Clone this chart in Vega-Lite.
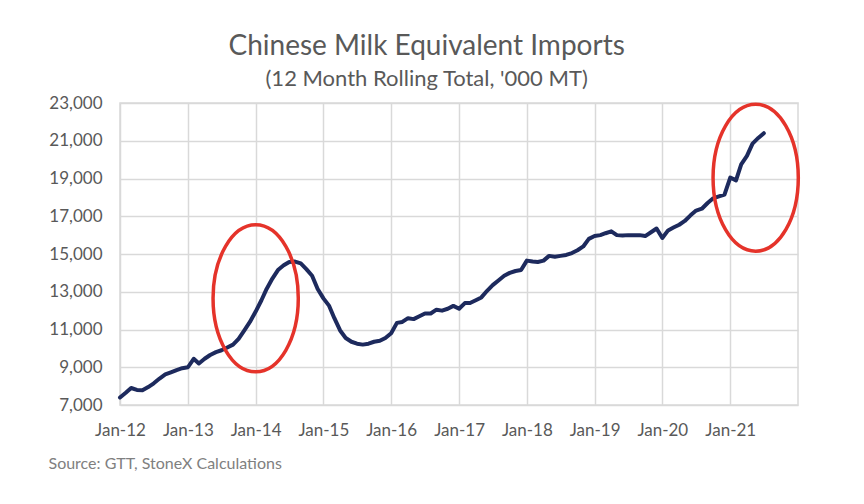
{
  "$schema": "https://vega.github.io/schema/vega-lite/v6.json",
  "width": 678,
  "height": 302,
  "autosize": {"type": "none"},
  "padding": {"left": 120, "top": 103, "right": 66, "bottom": 99},
  "background": "white",
  "title": {
    "text": "Chinese Milk Equivalent Imports",
    "subtitle": "(12 Month Rolling Total, '000 MT)",
    "anchor": "middle",
    "frame": "bounds",
    "font": "Lato",
    "subtitleFont": "Lato",
    "fontSize": 28,
    "subtitleFontSize": 22,
    "fontWeight": "normal",
    "color": "#595959",
    "subtitleColor": "#595959",
    "subtitlePadding": 8,
    "offset": 4
  },
  "datasets": {
    "imports": [
      {"date": "2012-01-01", "value": 7400},
      {"date": "2012-02-01", "value": 7650},
      {"date": "2012-03-01", "value": 7900},
      {"date": "2012-04-01", "value": 7800},
      {"date": "2012-05-01", "value": 7780},
      {"date": "2012-06-01", "value": 7950},
      {"date": "2012-07-01", "value": 8150},
      {"date": "2012-08-01", "value": 8400},
      {"date": "2012-09-01", "value": 8620},
      {"date": "2012-10-01", "value": 8730},
      {"date": "2012-11-01", "value": 8850},
      {"date": "2012-12-01", "value": 8950},
      {"date": "2013-01-01", "value": 9000},
      {"date": "2013-02-01", "value": 9450},
      {"date": "2013-03-01", "value": 9200},
      {"date": "2013-04-01", "value": 9450},
      {"date": "2013-05-01", "value": 9650},
      {"date": "2013-06-01", "value": 9800},
      {"date": "2013-07-01", "value": 9900},
      {"date": "2013-08-01", "value": 10050},
      {"date": "2013-09-01", "value": 10200},
      {"date": "2013-10-01", "value": 10500},
      {"date": "2013-11-01", "value": 10950},
      {"date": "2013-12-01", "value": 11400},
      {"date": "2014-01-01", "value": 11950},
      {"date": "2014-02-01", "value": 12550},
      {"date": "2014-03-01", "value": 13150},
      {"date": "2014-04-01", "value": 13700},
      {"date": "2014-05-01", "value": 14150},
      {"date": "2014-06-01", "value": 14400},
      {"date": "2014-07-01", "value": 14580},
      {"date": "2014-08-01", "value": 14600},
      {"date": "2014-09-01", "value": 14500},
      {"date": "2014-10-01", "value": 14200},
      {"date": "2014-11-01", "value": 13850},
      {"date": "2014-12-01", "value": 13150},
      {"date": "2015-01-01", "value": 12650},
      {"date": "2015-02-01", "value": 12250},
      {"date": "2015-03-01", "value": 11600},
      {"date": "2015-04-01", "value": 10950},
      {"date": "2015-05-01", "value": 10550},
      {"date": "2015-06-01", "value": 10350},
      {"date": "2015-07-01", "value": 10250},
      {"date": "2015-08-01", "value": 10200},
      {"date": "2015-09-01", "value": 10250},
      {"date": "2015-10-01", "value": 10350},
      {"date": "2015-11-01", "value": 10400},
      {"date": "2015-12-01", "value": 10550},
      {"date": "2016-01-01", "value": 10800},
      {"date": "2016-02-01", "value": 11350},
      {"date": "2016-03-01", "value": 11400},
      {"date": "2016-04-01", "value": 11600},
      {"date": "2016-05-01", "value": 11550},
      {"date": "2016-06-01", "value": 11700},
      {"date": "2016-07-01", "value": 11850},
      {"date": "2016-08-01", "value": 11850},
      {"date": "2016-09-01", "value": 12050},
      {"date": "2016-10-01", "value": 12000},
      {"date": "2016-11-01", "value": 12100},
      {"date": "2016-12-01", "value": 12250},
      {"date": "2017-01-01", "value": 12100},
      {"date": "2017-02-01", "value": 12400},
      {"date": "2017-03-01", "value": 12400},
      {"date": "2017-04-01", "value": 12550},
      {"date": "2017-05-01", "value": 12700},
      {"date": "2017-06-01", "value": 13050},
      {"date": "2017-07-01", "value": 13350},
      {"date": "2017-08-01", "value": 13600},
      {"date": "2017-09-01", "value": 13850},
      {"date": "2017-10-01", "value": 14000},
      {"date": "2017-11-01", "value": 14100},
      {"date": "2017-12-01", "value": 14150},
      {"date": "2018-01-01", "value": 14650},
      {"date": "2018-02-01", "value": 14600},
      {"date": "2018-03-01", "value": 14580},
      {"date": "2018-04-01", "value": 14650},
      {"date": "2018-05-01", "value": 14900},
      {"date": "2018-06-01", "value": 14850},
      {"date": "2018-07-01", "value": 14900},
      {"date": "2018-08-01", "value": 14950},
      {"date": "2018-09-01", "value": 15050},
      {"date": "2018-10-01", "value": 15200},
      {"date": "2018-11-01", "value": 15400},
      {"date": "2018-12-01", "value": 15800},
      {"date": "2019-01-01", "value": 15950},
      {"date": "2019-02-01", "value": 16000},
      {"date": "2019-03-01", "value": 16100},
      {"date": "2019-04-01", "value": 16200},
      {"date": "2019-05-01", "value": 16000},
      {"date": "2019-06-01", "value": 15980},
      {"date": "2019-07-01", "value": 16000},
      {"date": "2019-08-01", "value": 16000},
      {"date": "2019-09-01", "value": 16000},
      {"date": "2019-10-01", "value": 15950},
      {"date": "2019-11-01", "value": 16150},
      {"date": "2019-12-01", "value": 16350},
      {"date": "2020-01-01", "value": 15850},
      {"date": "2020-02-01", "value": 16250},
      {"date": "2020-03-01", "value": 16400},
      {"date": "2020-04-01", "value": 16550},
      {"date": "2020-05-01", "value": 16750},
      {"date": "2020-06-01", "value": 17050},
      {"date": "2020-07-01", "value": 17300},
      {"date": "2020-08-01", "value": 17400},
      {"date": "2020-09-01", "value": 17700},
      {"date": "2020-10-01", "value": 17950},
      {"date": "2020-11-01", "value": 18050},
      {"date": "2020-12-01", "value": 18150},
      {"date": "2021-01-01", "value": 19050},
      {"date": "2021-02-01", "value": 18900},
      {"date": "2021-03-01", "value": 19750},
      {"date": "2021-04-01", "value": 20200},
      {"date": "2021-05-01", "value": 20850},
      {"date": "2021-06-01", "value": 21150},
      {"date": "2021-07-01", "value": 21400}
    ],
    "highlights": [
      {"date": "2014-01-01", "value": 12650},
      {"date": "2021-05-18", "value": 19040}
    ]
  },
  "layer": [
    {
      "data": {"name": "imports", "format": {"parse": {"date": "date:'%Y-%m-%d'"}}},
      "mark": {"type": "line", "color": "#1d2a5d", "strokeWidth": 4, "strokeJoin": "round", "strokeCap": "round"},
      "encoding": {
        "x": {
          "field": "date",
          "type": "temporal",
          "scale": {"domain": [{"year": 2012, "month": 1, "date": 1}, {"year": 2022, "month": 1, "date": 1}]},
          "axis": {
            "values": [
              {"year": 2012, "month": 1, "date": 1},
              {"year": 2013, "month": 1, "date": 1},
              {"year": 2014, "month": 1, "date": 1},
              {"year": 2015, "month": 1, "date": 1},
              {"year": 2016, "month": 1, "date": 1},
              {"year": 2017, "month": 1, "date": 1},
              {"year": 2018, "month": 1, "date": 1},
              {"year": 2019, "month": 1, "date": 1},
              {"year": 2020, "month": 1, "date": 1},
              {"year": 2021, "month": 1, "date": 1}
            ],
            "tickCount": 12,
            "format": "%b-%y",
            "grid": true,
            "ticks": false,
            "domain": false,
            "labelPadding": 17,
            "labelFontSize": 17,
            "labelFont": "Lato",
            "labelColor": "#595959",
            "labelFlush": false,
            "labelOverlap": false,
            "title": "Source: GTT, StoneX Calculations",
            "titleAnchor": "start",
            "titleAlign": "left",
            "titleBaseline": "middle",
            "titleX": -72,
            "titleY": 58,
            "titleFont": "Lato",
            "titleFontSize": 16,
            "titleFontWeight": "normal",
            "titleColor": "#808080"
          }
        },
        "y": {
          "field": "value",
          "type": "quantitative",
          "scale": {"domain": [7000, 23000], "nice": false, "zero": false},
          "axis": {
            "values": [7000, 9000, 11000, 13000, 15000, 17000, 19000, 21000, 23000],
            "tickCount": 10,
            "format": ",d",
            "grid": true,
            "ticks": false,
            "domain": false,
            "labelPadding": 18,
            "labelFontSize": 17,
            "labelFont": "Lato",
            "labelColor": "#595959",
            "labelOverlap": false,
            "title": null
          }
        }
      }
    },
    {
      "data": {"name": "highlights", "format": {"parse": {"date": "date:'%Y-%m-%d'"}}},
      "mark": {
        "type": "point",
        "shape": "M0.58,0C0.58,0.5523 0.3203,1 0,1C-0.3203,1 -0.58,0.5523 -0.58,0C-0.58,-0.5523 -0.3203,-1 0,-1C0.3203,-1 0.58,-0.5523 0.58,0Z",
        "size": 21600,
        "filled": false,
        "stroke": "#e5332a",
        "strokeWidth": 3.5,
        "opacity": 1,
        "clip": false
      },
      "encoding": {
        "x": {"field": "date", "type": "temporal"},
        "y": {"field": "value", "type": "quantitative"}
      }
    }
  ],
  "config": {
    "view": {"stroke": "#d9d9d9", "strokeWidth": 1.5},
    "axis": {"gridColor": "#d9d9d9", "gridWidth": 1.5}
  }
}
